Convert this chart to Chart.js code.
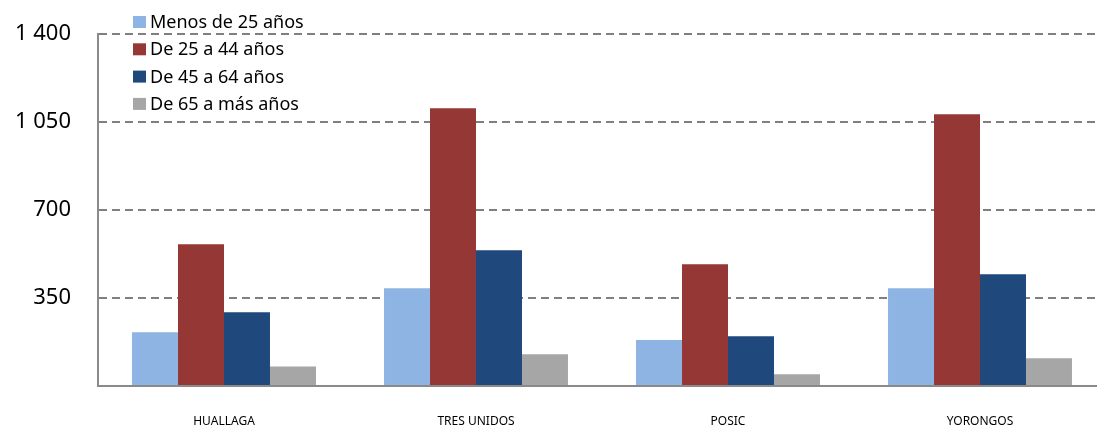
<!DOCTYPE html>
<html>
<head>
<meta charset="utf-8">
<script src="https://cdn.jsdelivr.net/npm/chart.js@4.4.0/dist/chart.umd.min.js"></script>
<style>
    html, body { margin: 0; padding: 0; background: #ffffff; overflow: hidden; }
    #wrap { width: 1097px; height: 428px; overflow: hidden; }
</style>
</head>
<body>
<div id="wrap"><canvas id="chart" width="1106" height="428"></canvas></div>
<script>
// chart data
const categories = ['HUALLAGA', 'TRES UNIDOS', 'POSIC', 'YORONGOS'];
const seriesNames = ['Menos de 25 años', 'De 25 a 44 años', 'De 45 a 64 años', 'De 65 a más años'];
const menos25 = [214, 389, 183, 389];
const de25a44 = [564, 1105, 484, 1081];
const de45a64 = [293, 540, 198, 444];
const de65mas = [78, 126, 47, 110];
const yTicks = [0, 350, 700, 1050, 1400];

const colors = ['#8EB4E3', '#953735', '#1F497D', '#A6A6A6'];
const values = [menos25, de25a44, de45a64, de65mas];

const datasets = seriesNames.map(function(name, i) {
    return {
        label: name,
        data: values[i],
        backgroundColor: colors[i],
        borderWidth: 0,
        barPercentage: 1.0,
        categoryPercentage: 0.73
    };
});

// Legend drawn in the top-left corner, over the plot
const cornerLegend = {
    id: 'cornerLegend',
    afterDraw: function(chart) {
        const ctx = chart.ctx;
        ctx.save();
        ctx.font = '18px "Noto Sans"';
        ctx.textBaseline = 'middle';
        ctx.textAlign = 'left';
        chart.data.datasets.forEach(function(ds, i) {
            const y = 22 + i * 27.3;
            ctx.fillStyle = ds.backgroundColor;
            ctx.fillRect(133, y - 6, 13, 12);
            ctx.fillStyle = '#000000';
            ctx.fillText(ds.label, 150, y + 1);
        });
        ctx.restore();
    }
};

function formatThousands(v) {
    return String(v).replace(/\B(?=(\d{3})+(?!\d))/g, ' ');
}

const config = {
    type: 'bar',
    data: { labels: categories, datasets: datasets },
    plugins: [cornerLegend],
    options: {
        responsive: false,
        animation: false,
        layout: { padding: { top: 34, left: 0, right: 0, bottom: 0 } },
        plugins: {
            legend: { display: false },
            tooltip: { enabled: false }
        },
        scales: {
            x: {
                grid: { display: false, drawTicks: false },
                border: { display: true, color: '#8a8a8a', width: 2 },
                ticks: {
                    color: '#000000',
                    font: { family: 'Noto Sans', size: 12 },
                    padding: 28,
                    maxRotation: 0
                },
                afterFit: function(scale) { scale.height = 42; }
            },
            y: {
                min: 0,
                max: 1400,
                afterBuildTicks: function(scale) {
                    scale.ticks = yTicks.map(function(v) { return { value: v }; });
                },
                grid: {
                    drawTicks: false,
                    color: function(c) { return c.tick && c.tick.value === 0 ? 'rgba(0,0,0,0)' : '#808080'; },
                    lineWidth: 2
                },
                border: { display: true, color: '#8a8a8a', width: 2, dash: [8, 5] },
                ticks: {
                    color: '#000000',
                    font: { family: 'Noto Sans', size: 22 },
                    padding: 27,
                    callback: function(v) { return v === 0 ? '' : formatThousands(v); }
                },
                afterFit: function(scale) {
                    scale.width = 98;
                    scale.paddingTop = 0;
                    scale.paddingBottom = 0;
                }
            }
        }
    }
};

new Chart(document.getElementById('chart'), config);
</script>
</body>
</html>
